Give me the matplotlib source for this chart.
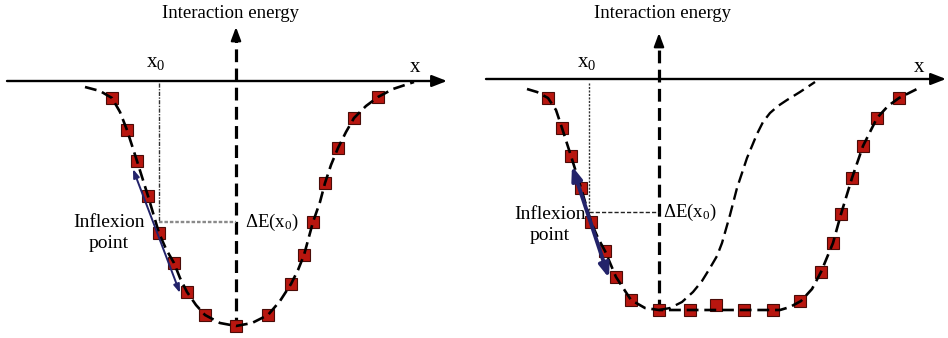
import matplotlib
matplotlib.use("Agg")
import matplotlib.pyplot as plt

plt.rcParams["font.family"] = ["Liberation Serif", "DejaVu Serif"]
plt.rcParams["mathtext.fontset"] = "custom"
plt.rcParams["mathtext.rm"] = "Liberation Serif"

# ---- Panel (a): symmetric potential well ----
a_pts_x = [-124, -109, -99, -88, -77, -62, -49, -31, 0, 32, 55, 68, 77, 89, 102, 118, 142]
a_pts_e = [-17, -49, -80, -115, -152, -182, -211, -234, -245, -234, -203, -174, -141, -102, -67, -37, -16]
a_curve_x = [-151, -136, -124, -116, -109, -99, -88, -77, -70, -62, -56, -49, -40, -31, -16, 0,
             16, 32, 44, 55, 62, 68, 77, 84, 89, 95, 102, 110, 118, 130, 142, 157, 178]
a_curve_e = [-6, -10, -17, -31, -49, -80, -115, -152, -168, -182, -197, -211, -224, -234, -242, -245,
             -242, -234, -220, -203, -189, -174, -141, -121, -102, -84, -67, -51, -37, -25, -16, -8, -1]
a_x0 = -77
a_dE = -141
a_tangent = [(-103, -88), (-56, -212)]

# ---- Panel (b): asymmetric well with flat bottom ----
b_pts_x = [-111, -97, -88, -78, -68, -54, -43, -28, 0, 31, 57, 85, 114, 141, 162, 174, 182, 193, 204, 218, 240]
b_pts_e = [-19, -49, -77, -109, -143, -172, -198, -221, -231, -231, -226, -231, -231, -222, -193, -164, -135, -99, -67, -39, -19]
b_curve_x = [-132, -122, -111, -103, -97, -88, -78, -68, -61, -54, -43, -28, -14, 0, 121,
             131, 142, 153, 162, 174, 182, 193, 204, 218, 229, 240, 258]
b_curve_e = [-10, -13, -19, -31, -49, -77, -109, -143, -159, -172, -198, -221, -229, -231, -231,
             -228, -222, -210, -193, -164, -135, -99, -67, -39, -27, -19, -10]
b_ref_x = [0, 11, 23, 34, 43, 51, 58, 63, 71, 78, 88, 98, 104, 111, 119, 128, 141, 156]
b_ref_e = [-231, -229, -223, -213, -202, -189, -177, -164, -136, -109, -79, -55, -43, -34, -27, -21, -13, -3]
b_x0 = -70
b_dE = -133
b_tangent = [(-87, -87), (-50, -199)]

MARK_FACE = "#b8160f"
MARK_EDGE = "#4a0c08"
NAVY = "#23236a"

fig = plt.figure(figsize=(9.48, 3.38), dpi=100)
ax1 = fig.add_axes([0, 0, 0.5, 1])
ax2 = fig.add_axes([0.5, 0, 0.5, 1])
ax1.set_xlim(-236, 238)
ax1.set_ylim(-257, 81)
ax2.set_xlim(-185, 289)
ax2.set_ylim(-259, 79)


def draw_axes(ax, x_start, x_end, y_bottom, y_top):
    ax.annotate("", xy=(x_end, 0), xytext=(x_start, 0),
                arrowprops=dict(arrowstyle="-|>,head_length=0.9,head_width=0.35",
                                color="black", lw=1.7, shrinkA=0, shrinkB=0),
                annotation_clip=False)
    ax.plot([0, 0], [y_bottom, y_top - 8], color="black", lw=2.3,
            dashes=(4, 2), zorder=2)
    ax.annotate("", xy=(0, y_top), xytext=(0, y_top - 12),
                arrowprops=dict(arrowstyle="-|>,head_length=0.8,head_width=0.3",
                                color="black", lw=1.6, shrinkA=0, shrinkB=0))


for ax in (ax1, ax2):
    ax.axis("off")

# Panel (a)
draw_axes(ax1, -229, 211, -249, 54)
ax1.plot([a_x0, a_x0], [-2, a_dE], color="#333333", lw=1.0, ls=(0, (3, 1, 1, 1)), zorder=2)
ax1.plot([a_x0, 0], [a_dE, a_dE], color="#8a8a8a", lw=1.7, ls=(0, (1.5, 0.8)), zorder=2)
ax1.plot(a_pts_x, a_pts_e, ls="none", marker="s", ms=8, mfc=MARK_FACE, mec=MARK_EDGE,
         mew=0.8, zorder=3)
ax1.plot(a_curve_x, a_curve_e, color="black", lw=1.9, dashes=(4.5, 2.2), zorder=4)
ax1.annotate("", xy=a_tangent[1], xytext=a_tangent[0],
             arrowprops=dict(arrowstyle="<|-|>,head_length=0.5,head_width=0.18",
                             color=NAVY, lw=1.4, shrinkA=0, shrinkB=0), zorder=5)
ax1.text(-6, 68, "Interaction energy", ha="center", va="center", fontsize=13.5)
ax1.text(179, 14, "x", ha="center", va="center", fontsize=15)
ax1.text(-80, 19, r"x$\mathregular{_0}$", ha="center", va="center", fontsize=15)
ax1.text(-127, -152, "Inflexion\npoint", ha="center", va="center", fontsize=14,
         linespacing=1.3)
ax1.text(9, -141, r"ΔE(x$\mathregular{_0}$)", ha="left", va="center", fontsize=13.5)

# Panel (b)
draw_axes(ax2, -173, 287, -233, 46)
ax2.plot([b_x0, b_x0], [-4, b_dE], color="#333333", lw=1.0, ls=(0, (1.5, 1)), zorder=2)
ax2.plot([b_x0, 0], [b_dE, b_dE], color="#222222", lw=1.0, ls=(0, (3, 1.5)), zorder=2)
ax2.plot(b_ref_x, b_ref_e, color="black", lw=1.7, dashes=(5, 2.5), zorder=4)
ax2.plot(b_pts_x, b_pts_e, ls="none", marker="s", ms=8, mfc=MARK_FACE, mec=MARK_EDGE,
         mew=0.8, zorder=3)
ax2.plot(b_curve_x, b_curve_e, color="black", lw=1.9, dashes=(4.5, 2.2), zorder=4)
ax2.annotate("", xy=b_tangent[1], xytext=b_tangent[0],
             arrowprops=dict(arrowstyle="<|-|>,head_length=0.8,head_width=0.3",
                             color=NAVY, lw=2.8, shrinkA=0, shrinkB=0), zorder=5)
ax2.text(3, 66, "Interaction energy", ha="center", va="center", fontsize=13.5)
ax2.text(260, 11, "x", ha="center", va="center", fontsize=15)
ax2.text(-72, 17, r"x$\mathregular{_0}$", ha="center", va="center", fontsize=15)
ax2.text(-109, -146, "Inflexion\npoint", ha="center", va="center", fontsize=14,
         linespacing=1.3)
ax2.text(4, -133, r"ΔE(x$\mathregular{_0}$)", ha="left", va="center", fontsize=13.5)

fig.savefig("out.png", dpi=100)
